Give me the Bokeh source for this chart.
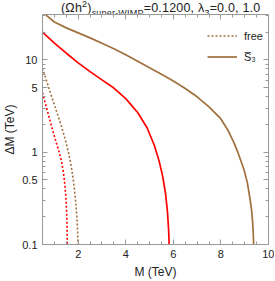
from bokeh.plotting import figure
from bokeh.layouts import column
from bokeh.models import (LinearAxis, LogAxis, FixedTicker, Range1d, Div,
                          Legend, LegendItem, CustomJSTickFormatter)
from bokeh.embed import file_html
from bokeh.resources import INLINE

# ---------------- data ----------------
# solid red curve
red_M = [0.5, 1.0, 1.5, 2.0, 2.5, 3.0, 3.5, 4.0, 4.5, 4.9, 5.2, 5.4, 5.55, 5.67, 5.75, 5.80, 5.825]
red_dM = [20.0, 15.2, 11.8, 9.29, 7.46, 6.07, 4.95, 3.80, 2.69, 1.83, 1.19, 0.805, 0.551,
          0.359, 0.231, 0.146, 0.1]

# solid brown curve (S3)
brown_M = [0.65, 1.0, 1.5, 2.0, 2.5, 3.0, 3.5, 4.0, 4.5, 5.0, 5.5, 6.0, 6.5, 7.0, 7.5,
           8.0, 8.29, 8.55, 8.71, 8.85, 8.97, 9.11, 9.22, 9.29, 9.33, 9.36, 9.375]
brown_dM = [30.5, 25.7, 22.2, 19.6, 17.3, 15.1, 13.2, 11.35, 9.66, 8.22, 7.0, 5.89, 4.90,
            3.98, 3.09, 2.29, 1.74, 1.26, 1.0, 0.794, 0.646, 0.468, 0.316, 0.234, 0.178,
            0.132, 0.1]

# dotted red curve (free)
redf_M = [0.5, 0.665, 0.859, 1.036, 1.201, 1.3, 1.38, 1.44, 1.48, 1.51, 1.53, 1.543]
redf_dM = [4.42, 3.05, 2.0, 1.38, 1.0, 0.794, 0.603, 0.447, 0.331, 0.240, 0.170, 0.1]

# dotted brown curve (free)
brownf_M = [0.5, 0.789, 0.995, 1.271, 1.407, 1.5, 1.6, 1.7, 1.78, 1.85, 1.91, 1.95, 1.975, 1.99]
brownf_dM = [8.15, 4.75, 3.28, 2.0, 1.52, 1.245, 0.977, 0.724, 0.537, 0.380, 0.263, 0.191,
             0.141, 0.1]

x_major = [2, 4, 6, 8, 10]
x_minor = [0.5, 1, 1.5, 2.5, 3, 3.5, 4.5, 5, 5.5, 6.5, 7, 7.5, 8.5, 9, 9.5]
y_major = [0.1, 0.5, 1, 5, 10]
y_minor = [0.2, 0.3, 0.4, 0.6, 0.7, 0.8, 0.9, 2, 3, 4, 6, 7, 8, 9, 20, 30]
x_lim = (0.5, 10)
y_lim = (0.1, 31)

x_label = "M (TeV)"
y_label = "ΔM (TeV)"
legend_labels = ["free", "S\u0305\u2083"]
title_html = ("(Ωh<sup style='line-height:0;font-size:9px'>2</sup>)"
              "<sub style='line-height:0;font-size:9px'>super-WIMP</sub>"
              "=0.1200, λ<sub style='line-height:0;font-size:9px'>3</sub>=0.0, 1.0")

RED = "#FF0000"
BROWN = "#A0703E"
FONT = "Liberation Sans"
FRAME = "#9a9a9a"
TXT = "#222222"

W, H = 274, 268
BL, BR, BT, BB = 38, 6, 1, 36
FW, FH = W - BL - BR, H - BT - BB

title = Div(text=("<div style=\"font-family:'Liberation Sans';font-size:12.5px;color:#222;"
                  "padding-left:61px;line-height:13px;white-space:nowrap;letter-spacing:0.2px\">"
                  + title_html + "</div>"),
            width=W, height=13, margin=(0, 0, 0, 0))

p = figure(width=W, height=H, y_axis_type="log",
           x_range=Range1d(*x_lim), y_range=Range1d(*y_lim),
           output_backend="svg", toolbar_location=None,
           min_border_left=BL, min_border_right=BR,
           min_border_top=BT, min_border_bottom=BB, margin=(0, 0, 0, 0))
p.grid.visible = False
p.outline_line_color = FRAME
p.background_fill_color = "white"
p.border_fill_color = "white"

fmt = CustomJSTickFormatter(code="return String(tick);")


def style_axis(ax, show_labels):
    ax.axis_line_color = FRAME
    ax.major_tick_line_color = FRAME
    ax.minor_tick_line_color = FRAME
    ax.major_tick_in = 5
    ax.major_tick_out = 0
    ax.minor_tick_in = 3
    ax.minor_tick_out = 0
    if show_labels:
        ax.major_label_text_font = FONT
        ax.major_label_text_font_size = "11px"
        ax.major_label_text_color = TXT
        ax.major_label_standoff = 5
        ax.axis_label_text_font = FONT
        ax.axis_label_text_font_size = "12px"
        ax.axis_label_text_font_style = "normal"
        ax.axis_label_text_color = TXT
        ax.axis_label_standoff = 4
    else:
        ax.major_label_text_color = None
        ax.major_label_standoff = 0


p.xaxis.ticker = FixedTicker(ticks=x_major, minor_ticks=x_minor)
p.xaxis.formatter = fmt
p.xaxis.axis_label = x_label
p.yaxis.ticker = FixedTicker(ticks=y_major, minor_ticks=y_minor)
p.yaxis.formatter = fmt
p.yaxis.axis_label = y_label
style_axis(p.xaxis[0], True)
style_axis(p.yaxis[0], True)
p.yaxis[0].axis_label_standoff = 2

top_ax = LinearAxis(ticker=FixedTicker(ticks=x_major, minor_ticks=x_minor),
                    fixed_location=y_lim[1])
style_axis(top_ax, False)
p.add_layout(top_ax, "above")
right_ax = LogAxis(ticker=FixedTicker(ticks=y_major, minor_ticks=y_minor),
                   fixed_location=x_lim[1])
style_axis(right_ax, False)
p.add_layout(right_ax, "right")

r_red = p.line(red_M, red_dM, line_color=RED, line_width=1.7)
r_brown = p.line(brown_M, brown_dM, line_color=BROWN, line_width=1.7)
r_redf = p.line(redf_M, redf_dM, line_color=RED, line_width=1.6, line_dash="2 2")
r_brownf = p.line(brownf_M, brownf_dM, line_color=BROWN, line_width=1.6, line_dash="2 2")

legend = Legend(items=[LegendItem(label=legend_labels[0], renderers=[r_brownf]),
                       LegendItem(label=legend_labels[1], renderers=[r_brown])],
                location=(165, FH - 12 - 42),
                glyph_width=30, glyph_height=21, label_height=21,
                label_standoff=7, spacing=0, padding=0, margin=0,
                border_line_color=None, background_fill_alpha=0,
                label_text_font=FONT, label_text_font_size="11px",
                label_text_color=TXT)
p.add_layout(legend, "center")

layout = column(title, p, spacing=0, margin=(0, 0, 0, 0))
open("out.html", "w").write(file_html(layout, INLINE))
